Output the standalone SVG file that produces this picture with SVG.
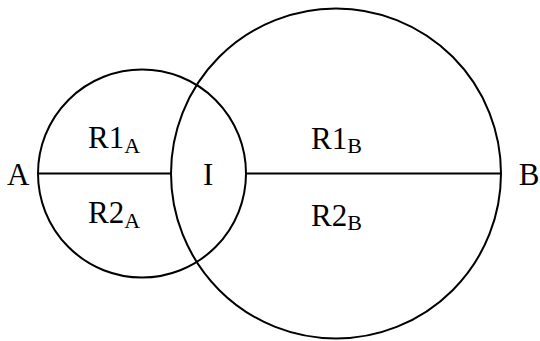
<svg xmlns="http://www.w3.org/2000/svg" width="540" height="341" viewBox="0 0 540 341">
<style>
.c{fill:none;stroke:#000;stroke-width:2}
.t{font-family:"Liberation Serif","Times New Roman",serif;font-size:31px;fill:#000}
.s{font-size:22px}
</style>
<rect width="540" height="341" fill="#fff"/>
<g id="circleA"><circle class="c" cx="142" cy="173.5" r="104"/></g>
<g id="circleB"><circle class="c" cx="336" cy="173.5" r="165"/></g>
<g id="connectors">
<line class="c" x1="38" y1="173.5" x2="171" y2="173.5"/>
<line class="c" x1="246" y1="173.5" x2="501" y2="173.5"/>
</g>
<g id="labelA"><text class="t" x="7" y="185">A</text></g>
<g id="labelB"><text class="t" x="539.5" y="185" text-anchor="end">B</text></g>
<g id="labelI"><text class="t" x="203" y="184.5">I</text></g>
<g id="R1A"><text class="t" x="88" y="148">R1<tspan class="s" dy="5">A</tspan></text></g>
<g id="R2A"><text class="t" x="88" y="223">R2<tspan class="s" dy="5">A</tspan></text></g>
<g id="R1B"><text class="t" x="311" y="149">R1<tspan class="s" dy="4">B</tspan></text></g>
<g id="R2B"><text class="t" x="311" y="226">R2<tspan class="s" dy="4">B</tspan></text></g>
</svg>
